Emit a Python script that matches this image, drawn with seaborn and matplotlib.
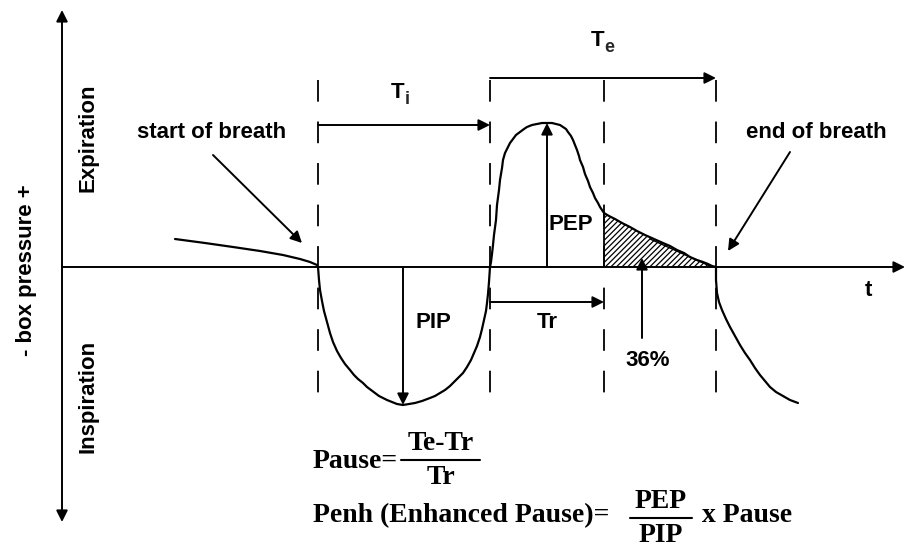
import numpy as np
import matplotlib
matplotlib.use("Agg")
import matplotlib.pyplot as plt
import seaborn as sns

# time markers of one breath (drawing units, left to right)
t_start = 318      # start of breath / start of inspiration
t_insp_end = 490   # end of inspiration, start of expiration
t_relax = 604      # relaxation time reached (36% of area left)
t_end = 716        # end of breath
baseline = 267     # zero box pressure

# box pressure trace (y grows downwards)
pre_x = [175, 205, 233, 260, 283, 300, 310, 317, 318]
pre_y = [239, 243, 247, 251, 255, 259, 262, 265, 267]

insp_x = [318, 319, 320, 322, 324, 327, 330, 333, 337, 341, 345, 350, 354,
          358, 363, 367, 371, 375, 379, 383, 387, 392, 397, 403,
          409, 415, 422, 430, 435, 440, 445, 450, 454, 458, 463, 467, 471,
          474, 477, 480, 482, 484, 486, 487, 488, 489, 490]
insp_y = [267, 280, 290, 301, 311, 322, 333, 342, 351, 358, 364, 370, 375,
          379, 383, 387, 390, 393, 396, 398, 400, 402, 404, 405,
          404, 403, 401, 398, 396, 393, 390, 386, 382, 378, 373, 367, 360,
          353, 346, 337, 329, 320, 311, 303, 294, 282, 267]

exp_x = [490, 491, 492, 493, 494, 496, 497, 499, 500, 502, 503, 505, 508,
         510, 513, 516, 520, 524, 527, 532, 537, 542, 547, 552, 556, 560,
         563, 566, 568, 571, 573, 575, 577, 579, 580, 583, 585, 588, 590,
         593, 595, 598, 600, 602, 604, 609, 615, 622, 630, 637, 645, 654,
         663, 670, 677, 684, 690, 697, 703, 708, 712, 716]
exp_y = [267, 262, 254, 245, 235, 220, 205, 190, 180, 168, 160, 153, 147,
         143, 139, 135, 132, 129, 127, 125, 124, 123, 123, 123, 124, 125,
         127, 129, 132, 136, 140, 145, 150, 156, 160, 167, 174, 181, 187,
         193, 198, 203, 207, 210, 213, 216, 219, 223, 227, 231, 235, 239,
         243, 246, 250, 253, 257, 260, 262, 264, 266, 267]

post_x = [716, 716, 717, 719, 722, 726, 730, 735, 740, 745, 750, 755, 760,
          765, 770, 776, 783, 790, 798]
post_y = [267, 280, 293, 302, 310, 319, 327, 336, 345, 353, 360, 368, 375,
          381, 387, 392, 396, 400, 403]

peak_x, peak_y = 547, 123      # PEP
trough_x, trough_y = 403, 405  # PIP

sns.set_style("white")
plt.rcParams["font.family"] = ["Liberation Sans", "DejaVu Sans"]
plt.rcParams["hatch.linewidth"] = 0.9

fig = plt.figure(figsize=(9.06, 5.48), dpi=100)
ax = fig.add_axes([0, 0, 1, 1])
ax.set_xlim(0, 906)
ax.set_ylim(548, 0)
ax.axis("off")

lw = 1.6
for xs, ys in [(pre_x, pre_y), (insp_x, insp_y), (exp_x, exp_y), (post_x, post_y)]:
    sns.lineplot(x=xs, y=ys, sort=False, estimator=None, color="black",
                 linewidth=lw, ax=ax)

# hatched area after Tr
ex = np.array(exp_x)
ey = np.array(exp_y)
m = (ex >= t_relax) & (ex <= 712)
ax.fill_between(ex[m], ey[m], baseline, facecolor="white", edgecolor="black",
                hatch="//////", linewidth=0, zorder=1)
ax.plot([t_relax, t_relax], [baseline, 213], color="black", lw=1.3)
ax.plot([650, 712], [239, 267], color="black", lw=1.0)

# dashed time markers
for t in [t_start, t_insp_end, t_relax, t_end]:
    ax.plot([t, t], [80, 405], color="black", lw=1.3, linestyle=(0, (12, 11)))

arrow = dict(arrowstyle="-|>", color="black", lw=1.4, mutation_scale=17,
             shrinkA=0, shrinkB=0)

# axes
ax.annotate("", xy=(62, 10), xytext=(62, baseline), arrowprops=arrow)
ax.annotate("", xy=(62, 522), xytext=(62, baseline), arrowprops=arrow)
ax.annotate("", xy=(905, baseline), xytext=(62, baseline), arrowprops=arrow)

# interval arrows
ax.annotate("", xy=(t_insp_end, 125), xytext=(t_start, 125), arrowprops=arrow)
ax.annotate("", xy=(t_end, 78), xytext=(t_insp_end, 78), arrowprops=arrow)
ax.annotate("", xy=(t_relax, 302), xytext=(t_insp_end, 302), arrowprops=arrow)

# amplitude arrows
ax.annotate("", xy=(peak_x, peak_y), xytext=(peak_x, baseline), arrowprops=arrow)
ax.annotate("", xy=(trough_x, trough_y), xytext=(trough_x, baseline), arrowprops=arrow)
ax.annotate("", xy=(642, 258), xytext=(642, 338), arrowprops=arrow)

# breath pointers
ax.annotate("", xy=(302, 243), xytext=(213, 155), arrowprops=arrow)
ax.annotate("", xy=(728, 251), xytext=(790, 152), arrowprops=arrow)

sans = dict(fontsize=16, fontweight="bold", color="black")
ax.text(27, 270, "- box pressure +", rotation=90, ha="center", va="center", **sans)
ax.text(88, 138, "Expiration", rotation=90, ha="center", va="center", **sans)
ax.text(88, 396, "Inspiration", rotation=90, ha="center", va="center", **sans)
ax.text(212, 132, "start of breath", ha="center", va="center", **sans)
ax.text(816, 132, "end of breath", ha="center", va="center", **sans)
ax.text(398, 92, "T", ha="center", va="center", **sans)
ax.text(407, 100, "i", ha="center", va="center", fontsize=13, fontweight="bold")
ax.text(598, 40, "T", ha="center", va="center", **sans)
ax.text(609, 47, "e", ha="center", va="center", fontsize=13, fontweight="bold")
ax.text(571, 225, "PEP", ha="center", va="center", **sans)
ax.text(433, 322, "PIP", ha="center", va="center", **sans)
ax.text(547, 322, "Tr", ha="center", va="center", **sans)
ax.text(648, 360, "36%", ha="center", va="center", **sans)
ax.text(868, 290, "t", ha="center", va="center", **sans)

serif = dict(fontsize=20, family=["Liberation Serif", "DejaVu Serif"],
             fontweight="bold", color="black")
ax.text(313, 462, "Pause=", ha="left", va="center", **serif)
ax.text(441, 444, "Te-Tr", ha="center", va="center", **serif)
ax.plot([401, 480], [460, 460], color="black", lw=1.5)
ax.text(441, 478, "Tr", ha="center", va="center", **serif)

ax.text(313, 516, "Penh (Enhanced Pause)=", ha="left", va="center", **serif)
ax.text(661, 501, "PEP", ha="center", va="center", **serif)
ax.plot([630, 692], [518, 518], color="black", lw=1.5)
ax.text(661, 536, "PIP", ha="center", va="center", **serif)
ax.text(702, 516, "x Pause", ha="left", va="center", **serif)

fig.savefig("out.png", dpi=100)
